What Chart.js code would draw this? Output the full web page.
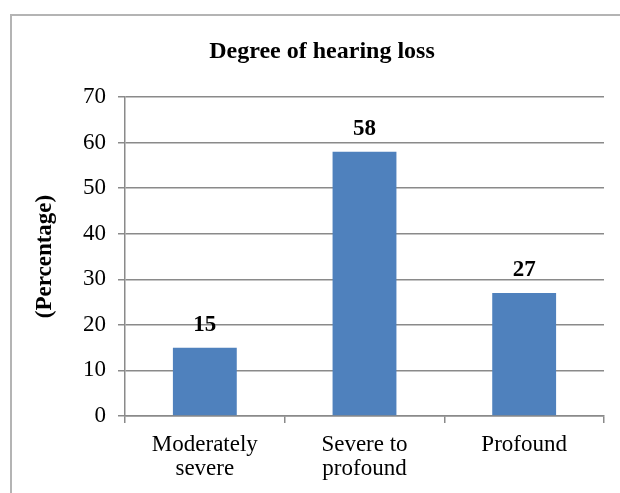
<!DOCTYPE html>
<html lang="en">
<head>
  <meta charset="UTF-8" />
  <title>Degree of hearing loss</title>
  <style>
    html, body {
      margin: 0;
      padding: 0;
      background: #ffffff;
    }
    .frame {
      position: absolute;
      left: 10px;
      top: 14px;
      width: 620px;
      height: 500px;
      border-left: 2px solid #b4b4b4;
      border-top: 2px solid #b4b4b4;
    }
    .chart-box {
      position: absolute;
      left: 0;
      top: 0;
      width: 620px;
      height: 493px;
    }
  </style>
</head>
<body>

<div class="frame"></div>
<div class="chart-box">
  <canvas id="hearingChart"></canvas>
</div>

<script src="https://cdn.jsdelivr.net/npm/chart.js"></script>
<script>
  // Data
  const categories = [['Moderately', 'severe'], ['Severe to', 'profound'], 'Profound'];
  const percentages = [15, 58, 27];
  const yTicks = [0, 10, 20, 30, 40, 50, 60, 70];

  const serif = "'Liberation Serif', 'Times New Roman', serif";
  const gridGray = '#8a8a8a';
  const fontSize = 23;

  // Value labels above each bar
  const valueLabels = {
    id: 'valueLabels',
    afterDatasetsDraw(chart) {
      const ctx = chart.ctx;
      const meta = chart.getDatasetMeta(0);
      ctx.save();
      ctx.font = 'bold ' + fontSize + 'px ' + serif;
      ctx.fillStyle = '#000';
      ctx.textAlign = 'center';
      ctx.textBaseline = 'middle';
      meta.data.forEach((bar, i) => {
        ctx.fillText(String(percentages[i]), bar.x, bar.y - 23);
      });
      ctx.restore();
    }
  };

  new Chart(document.getElementById('hearingChart').getContext('2d'), {
    type: 'bar',
    data: {
      labels: categories,
      datasets: [{
        label: 'Percentage',
        data: percentages,
        backgroundColor: '#4f81bd',
        borderWidth: 0,
        categoryPercentage: 1,
        barPercentage: 0.4
      }]
    },
    options: {
      responsive: true,
      maintainAspectRatio: false,
      animation: false,
      // left padding shifts the title centre to match the original
      layout: { padding: { left: 40, right: 16, top: 0, bottom: 0 } },
      plugins: {
        legend: { display: false },
        tooltip: { enabled: false },
        title: {
          display: true,
          text: 'Degree of hearing loss',
          color: '#000',
          font: { family: serif, size: 24, weight: 'bold', lineHeight: 1.0 },
          padding: { top: 40, bottom: 33 }
        }
      },
      scales: {
        x: {
          grid: {
            display: true,
            drawOnChartArea: false,
            drawTicks: true,
            tickLength: 7,
            color: gridGray,
            lineWidth: 1.5
          },
          border: { display: true, color: gridGray, width: 1.5 },
          ticks: {
            color: '#000',
            font: { family: serif, size: fontSize, lineHeight: 1.05 },
            padding: 10,
            maxRotation: 0
          },
          afterFit(scale) { scale.height = 77; }
        },
        y: {
          min: 0,
          max: 70,
          afterBuildTicks(scale) {
            scale.ticks = yTicks.map(v => ({ value: v }));
          },
          grid: {
            color: gridGray,
            lineWidth: 1.5,
            drawTicks: true,
            tickLength: 7
          },
          border: { display: true, color: gridGray, width: 1.5 },
          ticks: {
            color: '#000',
            font: { family: serif, size: fontSize },
            padding: 12
          },
          title: {
            display: true,
            text: '(Percentage)',
            color: '#000',
            font: { family: serif, size: fontSize, weight: 'bold', lineHeight: 1.05 },
            padding: { top: -7, bottom: 0 }
          },
          afterFit(scale) { scale.width = 85; }
        }
      }
    },
    plugins: [valueLabels]
  });
</script>

</body>
</html>
